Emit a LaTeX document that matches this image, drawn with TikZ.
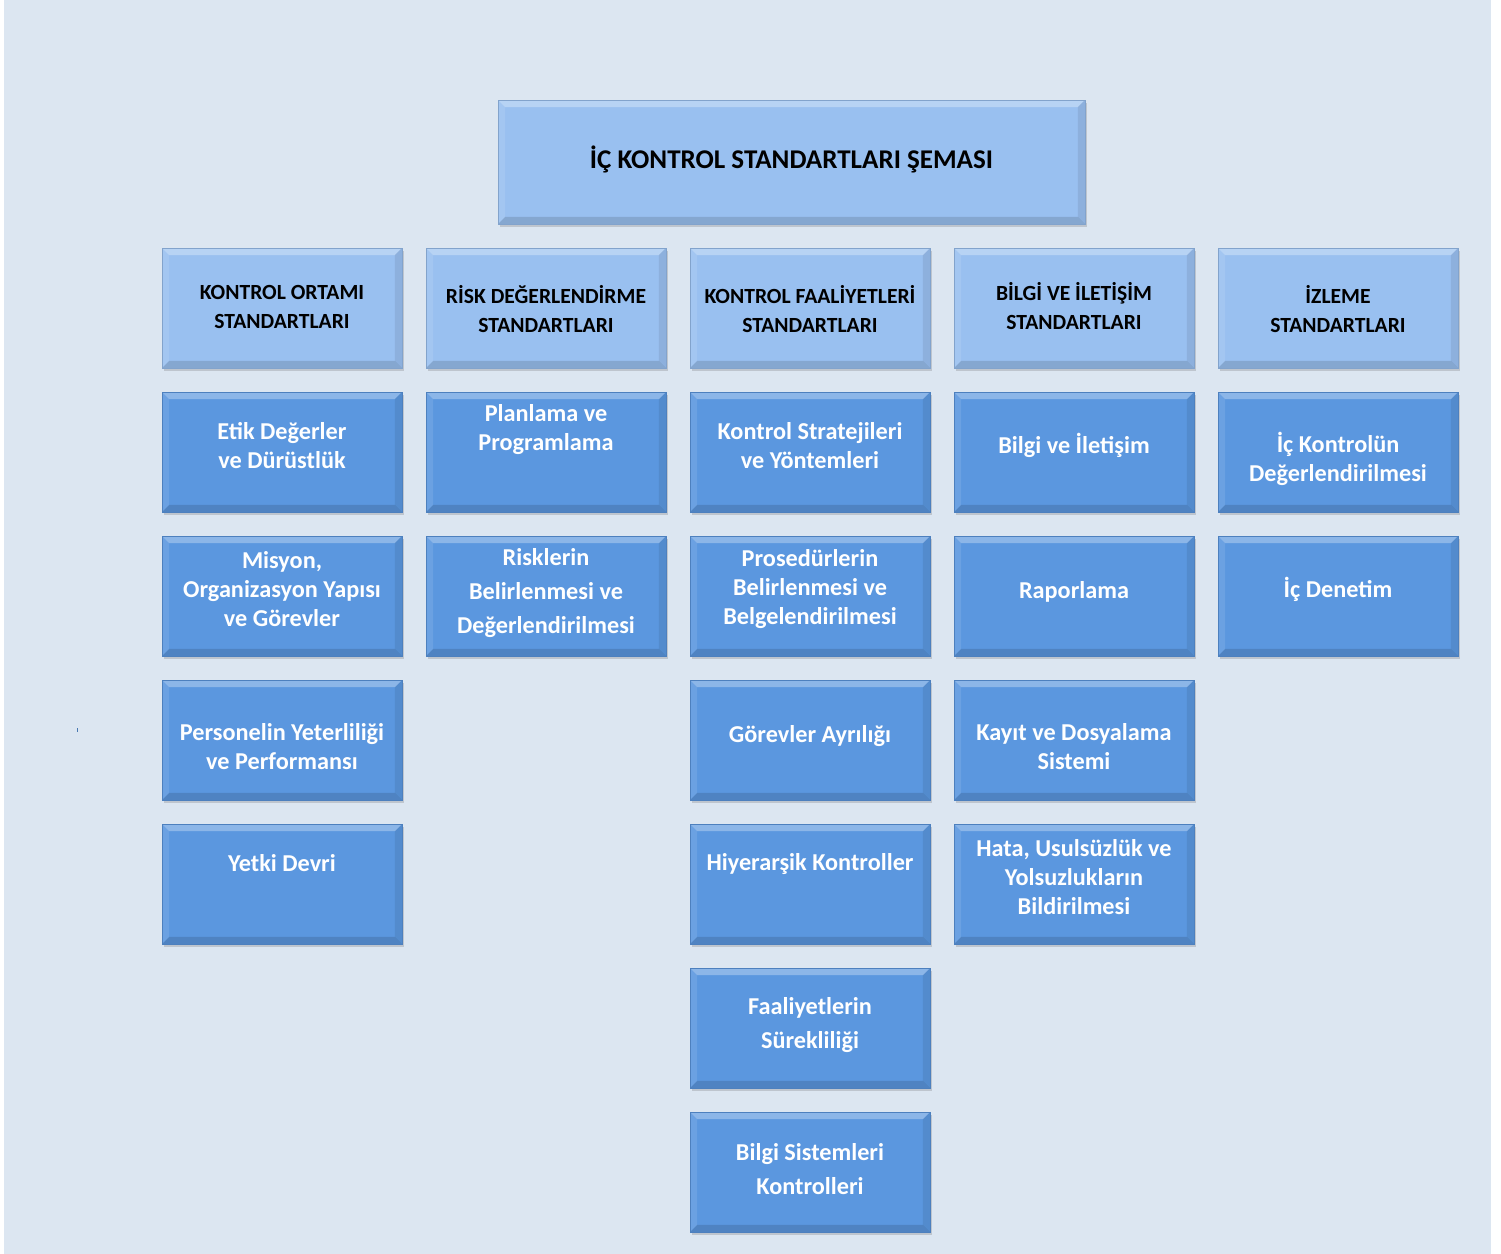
\documentclass[tikz,border=0pt]{standalone}
\usepackage{fontspec}
\setmainfont{Carlito}
\usetikzlibrary{calc,shadows}
\definecolor{pagebg}{HTML}{DCE6F1}
\definecolor{hdrblue}{HTML}{99C0F0}
\definecolor{bodyblue}{HTML}{5B97DF}

\tikzset{
  bevel/.style={path picture={
      \coordinate (pnw) at (path picture bounding box.north west);
      \coordinate (pne) at (path picture bounding box.north east);
      \coordinate (psw) at (path picture bounding box.south west);
      \coordinate (pse) at (path picture bounding box.south east);
      \fill[white,opacity=.30] (pnw) -- (pne) -- ([xshift=-4pt,yshift=-4pt]pne) -- ([xshift=4pt,yshift=-4pt]pnw) -- cycle;
      \fill[white,opacity=.10] (pnw) -- ([xshift=4pt,yshift=-4pt]pnw) -- ([xshift=4pt,yshift=4pt]psw) -- (psw) -- cycle;
      \fill[black,opacity=.08] (pne) -- ([xshift=-4pt,yshift=-4pt]pne) -- ([xshift=-4pt,yshift=4pt]pse) -- (pse) -- cycle;
      \fill[black,opacity=.13] (psw) -- ([xshift=4pt,yshift=4pt]psw) -- ([xshift=-4pt,yshift=4pt]pse) -- (pse) -- cycle;
    }},
  boxbase/.style={rectangle, inner sep=0pt, bevel,
    drop shadow={shadow xshift=1pt, shadow yshift=-1.8pt, opacity=.25, fill=black!60}},
  hbox/.style={boxbase, fill=hdrblue, draw=hdrblue!85!black, line width=.3pt,
    minimum width=4.8cm, minimum height=2.4cm},
  tbox/.style={hbox, minimum width=11.74cm, minimum height=2.48cm},
  wbox/.style={boxbase, fill=bodyblue, draw=bodyblue!85!black, line width=.3pt,
    minimum width=4.8cm, minimum height=2.4cm},
  htxt/.style={align=center, text=black, font=\bfseries\fontsize{12.3}{17}\selectfont},
  wtxt/.style={align=center, text=white, font=\bfseries\fontsize{13.8}{16.5}\selectfont},
  wtxtwide/.style={wtxt, font=\bfseries\fontsize{13.8}{19.3}\selectfont},
}

\begin{document}
\begin{tikzpicture}[x=0.02cm, y=-0.02cm]
  % page
  \useasboundingbox (0,0) rectangle (1501,1254);
  \fill[white] (0,0) rectangle (1501,1254);
  \fill[pagebg] (4,0) rectangle (1491,1254);
  \fill[bodyblue!80!black] (76.5,728) rectangle (78,732);

  % title
  \node[tbox] (title) at (791.5,162) {};
  \node[htxt, font=\bfseries\fontsize{15.4}{18}\selectfont] (titlet) at (791.5,159) {İÇ KONTROL STANDARTLARI ŞEMASI};

  % standard headers
  \node[hbox] (h1) at (282,308) {};
  \node[hbox] (h2) at (546,308) {};
  \node[hbox] (h3) at (810,308) {};
  \node[hbox] (h4) at (1074,308) {};
  \node[hbox] (h5) at (1338,308) {};
  \node[htxt] (h1t) at (282,307) {KONTROL ORTAMI\\STANDARTLARI};
  \node[htxt] (h2t) at (546,309) {RİSK DEĞERLENDİRME\\STANDARTLARI};
  \node[htxt] (h3t) at (810,309) {KONTROL FAALİYETLERİ\\STANDARTLARI};
  \node[htxt] (h4t) at (1074,306) {BİLGİ VE İLETİŞİM\\STANDARTLARI};
  \node[htxt] (h5t) at (1338,309) {İZLEME\\STANDARTLARI};

  % kontrol ortami
  \node[wbox] (k1) at (282,452) {};
  \node[wbox] (k2) at (282,596) {};
  \node[wbox] (k3) at (282,740) {};
  \node[wbox] (k4) at (282,884) {};
  \node[wtxt] (k1t) at (282,446) {Etik Değerler\\ve Dürüstlük};
  \node[wtxt] (k2t) at (282,589) {Misyon,\\Organizasyon Yapısı\\ve Görevler};
  \node[wtxt] (k3t) at (282,747) {Personelin Yeterliliği\\ve Performansı};
  \node[wtxt] (k4t) at (282,863) {Yetki Devri};

  % risk degerlendirme
  \node[wbox] (r1) at (546,452) {};
  \node[wbox] (r2) at (546,596) {};
  \node[wtxt] (r1t) at (546,430) {Planlama ve\\Programlama};
  \node[wtxtwide] (r2t) at (546,593) {Risklerin\\Belirlenmesi ve\\Değerlendirilmesi};

  % kontrol faaliyetleri
  \node[wbox] (f1) at (810,452) {};
  \node[wbox] (f2) at (810,596) {};
  \node[wbox] (f3) at (810,740) {};
  \node[wbox] (f4) at (810,884) {};
  \node[wbox] (f5) at (810,1028) {};
  \node[wbox] (f6) at (810,1172) {};
  \node[wtxt] (f1t) at (810,446) {Kontrol Stratejileri\\ve Yöntemleri};
  \node[wtxt] (f2t) at (810,589) {Prosedürlerin\\Belirlenmesi ve\\Belgelendirilmesi};
  \node[wtxt] (f3t) at (810,736) {Görevler Ayrılığı};
  \node[wtxt] (f4t) at (810,864) {Hiyerarşik Kontroller};
  \node[wtxtwide] (f5t) at (810,1025) {Faaliyetlerin\\Sürekliliği};
  \node[wtxtwide] (f6t) at (810,1169) {Bilgi Sistemleri\\Kontrolleri};

  % bilgi ve iletisim
  \node[wbox] (b1) at (1074,452) {};
  \node[wbox] (b2) at (1074,596) {};
  \node[wbox] (b3) at (1074,740) {};
  \node[wbox] (b4) at (1074,884) {};
  \node[wtxt] (b1t) at (1074,445) {Bilgi ve İletişim};
  \node[wtxt] (b2t) at (1074,592) {Raporlama};
  \node[wtxt] (b3t) at (1074,747) {Kayıt ve Dosyalama\\Sistemi};
  \node[wtxt] (b4t) at (1074,877) {Hata, Usulsüzlük ve\\Yolsuzlukların\\Bildirilmesi};

  % izleme
  \node[wbox] (i1) at (1338,452) {};
  \node[wbox] (i2) at (1338,596) {};
  \node[wtxt] (i1t) at (1338,459) {İç Kontrolün\\Değerlendirilmesi};
  \node[wtxt] (i2t) at (1338,589) {İç Denetim};
\end{tikzpicture}
\end{document}
